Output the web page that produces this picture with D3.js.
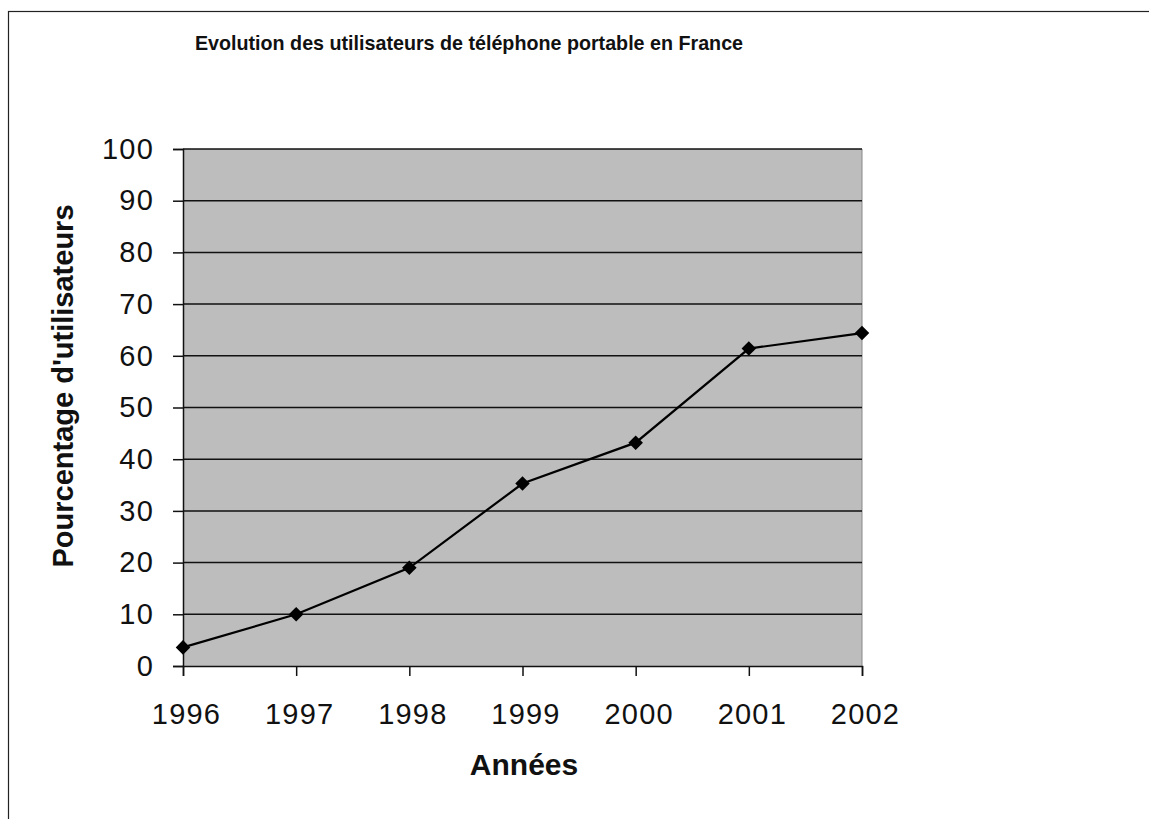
<!DOCTYPE html>
<html>
<head>
<meta charset="utf-8">
<script src="https://cdn.jsdelivr.net/npm/d3@7"></script>
<style>
  body { margin: 0; background: #fff; }
  svg { display: block; font-family: "Liberation Sans", Arial, sans-serif; }
</style>
</head>
<body>
<svg id="chart" width="1149" height="819"></svg>
<script>
// data
const years = [1996, 1997, 1998, 1999, 2000, 2001, 2002];
const percentages = [3.6, 10, 19, 35.3, 43.2, 61.4, 64.4];
const yTicks = [0, 10, 20, 30, 40, 50, 60, 70, 80, 90, 100];

const titleText = 'Evolution des utilisateurs de téléphone portable en France';
const xTitle = 'Années';
const yTitle = "Pourcentage d'utilisateurs";

const svg = d3.select('#chart');

// plot area box
const plotLeft = 183, plotRight = 862, plotTop = 149, plotBottom = 666;

const x = d3.scalePoint()
  .domain(years)
  .range([plotLeft, plotRight]);

const y = d3.scaleLinear()
  .domain([0, 100])
  .range([plotBottom, plotTop]);

// outer frame
svg.append('rect')
  .attr('x', 8.5).attr('y', 11.5)
  .attr('width', 1160).attr('height', 830)
  .attr('fill', 'none').attr('stroke', '#222').attr('stroke-width', 1.2);

// grey plot background
svg.append('rect')
  .attr('x', plotLeft).attr('y', plotTop)
  .attr('width', plotRight - plotLeft).attr('height', plotBottom - plotTop)
  .attr('fill', '#bdbdbd');
svg.append('line')
  .attr('x1', plotRight).attr('x2', plotRight).attr('y1', plotTop).attr('y2', plotBottom)
  .attr('stroke', '#888').attr('stroke-width', 1);

// horizontal gridlines
svg.append('g')
  .selectAll('line')
  .data(yTicks.filter(d => d > 0))
  .join('line')
  .attr('x1', plotLeft).attr('x2', plotRight)
  .attr('y1', d => y(d)).attr('y2', d => y(d))
  .attr('stroke', '#111').attr('stroke-width', 1.5);

// y axis
const yAxis = svg.append('g')
  .attr('transform', `translate(${plotLeft},0)`)
  .call(d3.axisLeft(y).tickValues(yTicks).tickSize(10).tickPadding(19));
yAxis.select('.domain').attr('stroke', '#111').attr('stroke-width', 1.5);
yAxis.selectAll('.tick line').attr('stroke', '#111').attr('stroke-width', 1.5);
yAxis.selectAll('text')
  .attr('font-size', 29).attr('fill', '#111').attr('letter-spacing', 1.2)
  .attr('font-family', '"Liberation Sans", Arial, sans-serif');

// x axis
const xAxis = svg.append('g')
  .attr('transform', `translate(0,${plotBottom})`)
  .call(d3.axisBottom(x).tickSize(10).tickPadding(27).tickFormat(d3.format('d')));
xAxis.select('.domain').attr('stroke', '#111').attr('stroke-width', 1.5);
xAxis.selectAll('.tick line').attr('stroke', '#111').attr('stroke-width', 1.5);
xAxis.selectAll('text')
  .attr('font-size', 29).attr('fill', '#111').attr('letter-spacing', 1.2)
  .attr('dx', 3)
  .attr('font-family', '"Liberation Sans", Arial, sans-serif');

// series line
const line = d3.line()
  .x((d, i) => x(years[i]))
  .y(d => y(d));

svg.append('path')
  .datum(percentages)
  .attr('d', line)
  .attr('fill', 'none')
  .attr('stroke', '#000')
  .attr('stroke-width', 2.2);

// diamond markers
svg.append('g')
  .selectAll('path')
  .data(percentages)
  .join('path')
  .attr('d', d3.symbol().type(d3.symbolDiamond2).size(135))
  .attr('transform', (d, i) => `translate(${x(years[i])},${y(d)})`)
  .attr('fill', '#000');

// titles
svg.append('text')
  .attr('x', 469).attr('y', 50)
  .attr('text-anchor', 'middle')
  .attr('font-size', 19.7).attr('font-weight', 'bold')
  .attr('fill', '#111')
  .text(titleText);

svg.append('text')
  .attr('x', 524).attr('y', 775)
  .attr('text-anchor', 'middle')
  .attr('font-size', 30).attr('font-weight', 'bold')
  .attr('fill', '#111')
  .text(xTitle);

svg.append('text')
  .attr('transform', 'translate(73,386) rotate(-90)')
  .attr('text-anchor', 'middle')
  .attr('font-size', 29).attr('font-weight', 'bold')
  .attr('fill', '#111')
  .text(yTitle);
</script>
</body>
</html>
